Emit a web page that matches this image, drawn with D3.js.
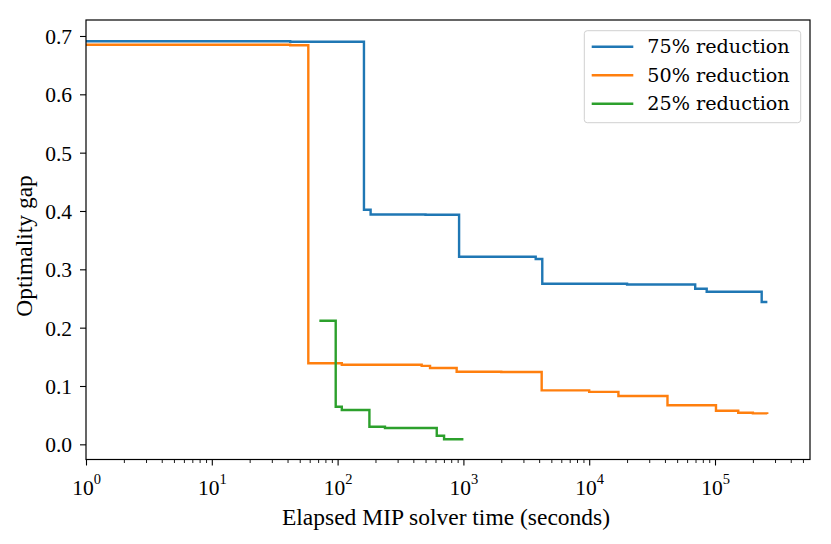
<!DOCTYPE html>
<html>
<head>
  <meta charset="utf-8">
  <title>Optimality gap vs elapsed MIP solver time</title>
  <style>
    body { margin: 0; background: white; }
    .tick text { font-family: "Liberation Serif", serif; font-size: 21.5px; fill: black; }
    .axis-label { font-family: "Liberation Serif", serif; font-size: 23.5px; fill: black; text-anchor: middle; }
    .legend text { font-family: "DejaVu Serif", serif; font-size: 19.2px; fill: black; }
  </style>
  <script src="https://d3js.org/d3.v7.min.js"></script>
</head>
<body>
  <div id="chart"></div>
  <script>
    // series: [seconds, gap] pairs, drawn as step-after lines
    const seriesNames = ["75% reduction", "50% reduction", "25% reduction"];
    const seriesColors = ["#1f77b4", "#ff7f0e", "#2ca02c"];

    const gap75 = [
      [1, 0.691], [42, 0.690], [162, 0.402], [183, 0.394], [500, 0.3935],
      [924, 0.3216], [3756, 0.3177], [4236, 0.2753], [20000, 0.274],
      [69600, 0.2668], [85900, 0.2616], [235000, 0.244], [260700, 0.244]
    ];
    const gap50 = [
      [1, 0.685], [42, 0.684], [58.5, 0.1389], [108, 0.1365], [466, 0.1345],
      [543, 0.1308], [884, 0.1245], [2000, 0.124], [4190, 0.0925],
      [10000, 0.090], [17070, 0.0828], [41900, 0.0669], [101800, 0.0576],
      [153000, 0.0542], [200000, 0.053], [260000, 0.052]
    ];
    const gap25 = [
      [71.6, 0.2119], [96.6, 0.0645], [108, 0.0588], [179, 0.0302],
      [238, 0.0279], [614, 0.0147], [702, 0.0086], [1000, 0.0086]
    ];
    const allSeries = [gap75, gap50, gap25];

    const xTickValues = [1, 10, 100, 1000, 10000, 100000];
    const yTickValues = [0, 0.1, 0.2, 0.3, 0.4, 0.5, 0.6, 0.7];

    const W = 831, H = 544;
    const margin = {top: 20, right: 21, bottom: 84.5, left: 86};
    const width = W - margin.left - margin.right,
          height = H - margin.top - margin.bottom;

    const svg = d3.select("#chart").append("svg")
        .attr("width", W).attr("height", H)
      .append("g")
        .attr("transform", `translate(${margin.left},${margin.top})`);

    const x = d3.scaleLog().domain([1, 569000]).range([0, width]);
    const y = d3.scaleLinear().domain([-0.026, 0.7274]).range([height, 0]);

    // minor log ticks
    const minor = [];
    for (let e = 0; e < 6; e++) {
      for (let k = 2; k < 10; k++) {
        const v = k * Math.pow(10, e);
        if (v < 569000) minor.push(v);
      }
    }
    svg.append("g")
      .attr("transform", `translate(0,${height})`)
      .call(d3.axisBottom(x).tickValues(minor).tickSize(3.5).tickFormat(""))
      .call(g => g.select(".domain").remove())
      .selectAll("line").attr("stroke-width", 0.9);

    const xAxis = svg.append("g")
      .attr("transform", `translate(0,${height})`)
      .call(d3.axisBottom(x).tickValues(xTickValues).tickSize(6).tickFormat(""));
    xAxis.select(".domain").remove();
    xAxis.selectAll(".tick line").attr("stroke-width", 1.1);
    xAxis.selectAll(".tick").append("text")
      .attr("y", 35.5)
      .attr("text-anchor", "middle")
      .attr("fill", "black")
      .each(function(d) {
        const t = d3.select(this);
        t.append("tspan").text("10");
        t.append("tspan").attr("dy", -11).attr("font-size", "14.5px").text(Math.round(Math.log10(d)));
      });

    const yAxis = svg.append("g")
      .call(d3.axisLeft(y).tickValues(yTickValues).tickSize(6).tickPadding(8).tickFormat(d3.format(".1f")));
    yAxis.select(".domain").remove();
    yAxis.selectAll(".tick line").attr("stroke-width", 1.1);
    yAxis.selectAll(".tick text").attr("dy", "0.35em");

    const line = d3.line()
      .x(d => x(d[0]))
      .y(d => y(d[1]))
      .curve(d3.curveStepAfter);

    allSeries.forEach((s, i) => {
      svg.append("path")
        .datum(s)
        .attr("fill", "none")
        .attr("stroke", seriesColors[i])
        .attr("stroke-width", 2.4)
        .attr("d", line);
    });

    // frame
    svg.append("rect")
      .attr("width", width).attr("height", height)
      .attr("fill", "none").attr("stroke", "black").attr("stroke-width", 1.2);

    // axis labels
    svg.append("text")
      .attr("class", "axis-label")
      .attr("x", width / 2 - 2)
      .attr("y", height + 65.5)
      .text("Elapsed MIP solver time (seconds)");

    svg.append("text")
      .attr("class", "axis-label")
      .attr("transform", "rotate(-90)")
      .attr("x", -(246 - margin.top))
      .attr("y", -margin.left + 32)
      .text("Optimality gap");

    // legend
    const lg = svg.append("g").attr("class", "legend")
      .attr("transform", `translate(${584.3 - margin.left},${30.7 - margin.top})`);
    lg.append("rect")
      .attr("width", 216.4).attr("height", 92)
      .attr("rx", 3)
      .attr("fill", "white").attr("fill-opacity", 0.8)
      .attr("stroke", "#d0d0d0").attr("stroke-width", 1);
    const items = lg.selectAll(".item").data(seriesNames).enter().append("g")
      .attr("class", "item")
      .attr("transform", (d, i) => `translate(0,${16 + i * 28.5})`);
    items.append("line")
      .attr("x1", 7.4).attr("x2", 49)
      .attr("stroke", (d, i) => seriesColors[i])
      .attr("stroke-width", 2.4);
    items.append("text")
      .attr("x", 63)
      .attr("dy", "0.35em")
      .text(d => d);
  </script>
</body>
</html>
